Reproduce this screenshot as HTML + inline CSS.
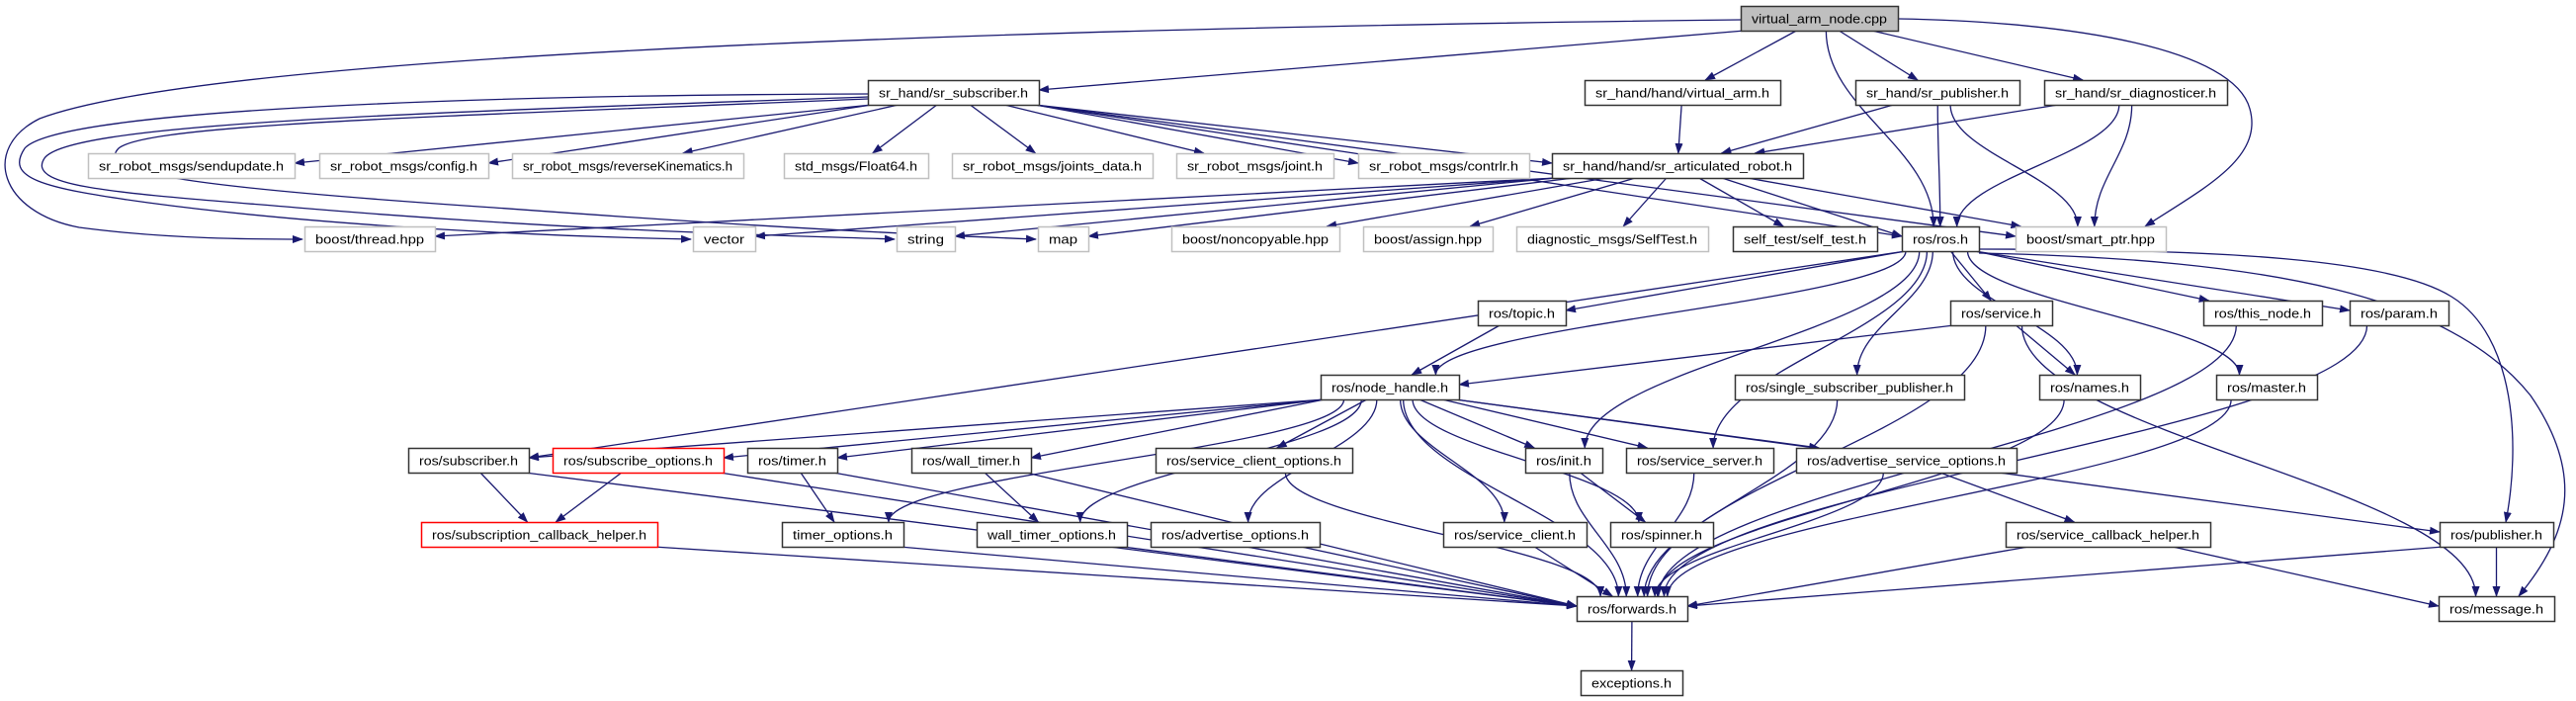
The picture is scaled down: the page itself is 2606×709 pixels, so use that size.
<!DOCTYPE html>
<html><head><meta charset="utf-8">
<style>
html,body{margin:0;padding:0;background:#fff;}
svg{display:block;}
text{font-family:"Liberation Sans","DejaVu Sans",sans-serif;font-size:13px;fill:#000;}
</style></head>
<body>
<svg id="g" width="2606" height="709" viewBox="0 0 2606 709" xmlns="http://www.w3.org/2000/svg">
<defs>
<marker id="a" markerUnits="userSpaceOnUse" markerWidth="11" markerHeight="8" refX="10" refY="4" orient="auto">
<path d="M0,0 L11,4 L0,8 z" fill="#191970"/>
</marker>
</defs>
<g id="edges" fill="none" stroke="#191970" stroke-width="1.3"></g>
<g id="nodes"></g>
</svg>
<div style="display:none" id="labels">
virtual_arm_node.cpp sr_hand/sr_subscriber.h sr_hand/hand/virtual_arm.h sr_hand/sr_publisher.h sr_hand/sr_diagnosticer.h
sr_robot_msgs/sendupdate.h sr_robot_msgs/config.h sr_robot_msgs/reverseKinematics.h std_msgs/Float64.h sr_robot_msgs/joints_data.h
sr_robot_msgs/joint.h sr_robot_msgs/contrlr.h sr_hand/hand/sr_articulated_robot.h boost/thread.hpp vector string map
boost/noncopyable.hpp boost/assign.hpp diagnostic_msgs/SelfTest.h self_test/self_test.h ros/ros.h boost/smart_ptr.hpp
ros/topic.h ros/service.h ros/this_node.h ros/param.h ros/node_handle.h ros/single_subscriber_publisher.h ros/names.h ros/master.h
ros/subscriber.h ros/subscribe_options.h ros/timer.h ros/wall_timer.h ros/service_client_options.h ros/init.h ros/service_server.h
ros/advertise_service_options.h ros/publisher.h ros/subscription_callback_helper.h timer_options.h wall_timer_options.h
ros/advertise_options.h ros/service_client.h ros/spinner.h ros/service_callback_helper.h ros/forwards.h ros/message.h exceptions.h
</div>
<script>
var R=[6,81,155,229,304,379,453,528,603,678],H=25;
var N={
VAN:[1761,1920,0,"virtual_arm_node.cpp","r"],
SUB:[878,1051,1,"sr_hand/sr_subscriber.h"],
VA:[1603,1801,1,"sr_hand/hand/virtual_arm.h"],
PUB:[1877,2043,1,"sr_hand/sr_publisher.h"],
DIAG:[2068,2253,1,"sr_hand/sr_diagnosticer.h"],
SEND:[89,298,2,"sr_robot_msgs/sendupdate.h","g"],
CONF:[323,494,2,"sr_robot_msgs/config.h","g"],
REV:[518,752,2,"sr_robot_msgs/reverseKinematics.h","g"],
F64:[793,939,2,"std_msgs/Float64.h","g"],
JD:[963,1166,2,"sr_robot_msgs/joints_data.h","g"],
JOINT:[1190,1349,2,"sr_robot_msgs/joint.h","g"],
CON:[1374,1547,2,"sr_robot_msgs/contrlr.h","g"],
ART:[1570,1824,2,"sr_hand/hand/sr_articulated_robot.h"],
THR:[308,440,3,"boost/thread.hpp","g"],
VEC:[701,764,3,"vector","g"],
STR:[907,966,3,"string","g"],
MAP:[1050,1101,3,"map","g"],
NONC:[1185,1355,3,"boost/noncopyable.hpp","g"],
ASSIGN:[1379,1510,3,"boost/assign.hpp","g"],
SELFT:[1534,1728,3,"diagnostic_msgs/SelfTest.h","g"],
ST:[1753,1899,3,"self_test/self_test.h"],
ROS:[1924,2002,3,"ros/ros.h"],
SP:[2039,2191,3,"boost/smart_ptr.hpp","g"],
TOPIC:[1495,1584,4,"ros/topic.h"],
SERV:[1973,2076,4,"ros/service.h"],
THIS:[2229,2349,4,"ros/this_node.h"],
PARAM:[2377,2477,4,"ros/param.h"],
NH:[1336,1476,5,"ros/node_handle.h"],
SSP:[1755,1987,5,"ros/single_subscriber_publisher.h"],
NAMES:[2063,2165,5,"ros/names.h"],
MASTER:[2242,2344,5,"ros/master.h"],
RSUB:[413,535,6,"ros/subscriber.h"],
SOPT:[559,732,6,"ros/subscribe_options.h","red"],
TIMER:[756,847,6,"ros/timer.h"],
WT:[922,1043,6,"ros/wall_timer.h"],
SCO:[1169,1368,6,"ros/service_client_options.h"],
INIT:[1543,1621,6,"ros/init.h"],
SS:[1645,1794,6,"ros/service_server.h"],
ASO:[1817,2040,6,"ros/advertise_service_options.h"],
PUBL:[2468,2583,7,"ros/publisher.h"],
SCH:[426,665,7,"ros/subscription_callback_helper.h","red"],
TO:[791,914,7,"timer_options.h"],
WTO:[988,1140,7,"wall_timer_options.h"],
AO:[1164,1335,7,"ros/advertise_options.h"],
SC:[1460,1605,7,"ros/service_client.h"],
SPIN:[1629,1733,7,"ros/spinner.h"],
SCBH:[2029,2236,7,"ros/service_callback_helper.h"],
FWD:[1595,1707,8,"ros/forwards.h"],
MSG:[2467,2584,8,"ros/message.h"],
EXC:[1599,1702,9,"exceptions.h"]
};
var E=[
"VAN SUB","VAN VA","VAN PUB","VAN DIAG","VAN ROS",
"SUB SEND","SUB CONF","SUB REV","SUB F64","SUB JD","SUB JOINT","SUB CON","SUB ART","SUB ROS","SUB SP",
"VA ART","PUB ART","PUB ROS","PUB SP","DIAG ART","DIAG ROS","DIAG SP",
"ART THR","ART VEC","ART STR","ART MAP","ART NONC","ART ASSIGN","ART SELFT","ART ST","ART ROS","ART SP",
"ROS NH","ROS TOPIC","ROS SERV","ROS THIS","ROS PARAM","ROS NAMES","ROS MASTER","ROS SSP","ROS INIT","ROS SS","ROS RSUB",
"TOPIC NH","SERV NH","SERV NAMES","SERV FWD","SERV MSG",
"THIS FWD","PARAM FWD","MASTER FWD","NAMES FWD","SSP FWD",
"NH RSUB","NH SOPT","NH TIMER","NH WT","NH SCO","NH INIT","NH SS","NH ASO","NH PUBL","NH TO","NH WTO","NH AO","NH SC","NH SPIN","NH FWD",
"RSUB SCH","RSUB FWD","SOPT SCH","SOPT FWD","TIMER TO","TIMER FWD","WT WTO","WT FWD","SCO FWD","INIT SPIN","INIT FWD","SS FWD",
"ASO SCBH","ASO FWD","SCH FWD","TO FWD","WTO FWD","AO FWD","SC FWD","SCBH FWD","SCBH MSG","PUBL FWD","PUBL MSG","FWD EXC"
];
var NS="http://www.w3.org/2000/svg";
var eg=document.getElementById("edges"),ng=document.getElementById("nodes");
function P(d){var p=document.createElementNS(NS,"path");p.setAttribute("d",d);p.setAttribute("marker-end","url(#a)");eg.appendChild(p);}
function cl(v,a,b){return Math.max(a,Math.min(b,v));}
E.forEach(function(s){
 var t=s.split(" "),A=N[t[0]],B=N[t[1]];
 var ax=(A[0]+A[1])/2,bx=(B[0]+B[1])/2,ay=R[A[2]]+H/2,by=R[B[2]]+H/2;
 var dx=bx-ax,dy=by-ay;
 var sx=cl(ax+dx*(H/2)/dy,A[0]+4,A[1]-4),sy=R[A[2]]+H;
 var tx=bx-dx*(H/2)/dy,ty=R[B[2]],side=false;
 if(tx<B[0]+4||tx>B[1]-4){
   if(Math.abs(dx)>dy*2.2){side=true;ty=R[B[2]]+10;tx=dx>0?B[0]:B[1];}
   else tx=cl(tx,B[0]+4,B[1]-4);
 }
 var rows=B[2]-A[2];
 if(rows<=1||side){P("M"+sx+","+sy+" L"+tx+","+ty);return;}
 var m=(ty-sy)*0.4;
 P("M"+sx+","+sy+" C"+sx+","+(sy+m)+" "+tx+","+(ty-m)+" "+tx+","+ty);
});
// special long curves
P("M1761,20 C900,30 200,60 40,120 C-20,150 0,215 80,230 C170,242 260,242 306,242");
P("M878,95 C500,96 60,110 25,150 C5,180 40,190 150,205 C350,232 600,240 699,242");
P("M878,98 C400,115 70,125 45,160 C25,190 120,195 300,210 C600,235 800,238 905,242");
P("M878,100 C450,118 150,125 120,150 C95,175 200,190 500,210 C800,232 950,238 1048,242");
P("M1920,19 C2100,22 2260,50 2276,110 C2290,160 2230,190 2170,229");
P("M2002,252 C2250,252 2420,262 2480,300 C2545,340 2550,450 2535,528");
P("M2002,256 C2300,262 2480,300 2560,400 C2615,480 2600,540 2548,603");
// nodes
for(var k in N){var n=N[k],x=n[0],w=n[1]-n[0],y=R[n[2]];
 var r=document.createElementNS(NS,"rect");
 r.setAttribute("x",x+0.5);r.setAttribute("y",y+0.5);r.setAttribute("width",w);r.setAttribute("height",H);
 var st=n[4]=="g"?"#c0c0c0":(n[4]=="red"?"#ff0000":"#333333");
 r.setAttribute("fill",n[4]=="r"?"#bfbfbf":"#ffffff");r.setAttribute("stroke",st);r.setAttribute("stroke-width","1.5");
 ng.appendChild(r);
 var tx=document.createElementNS(NS,"text");
 tx.setAttribute("x",x+w/2);tx.setAttribute("y",y+17.5);tx.setAttribute("text-anchor","middle");
 tx.setAttribute("textLength",Math.max(10,w-22));tx.setAttribute("lengthAdjust","spacingAndGlyphs");
 tx.textContent=n[3];ng.appendChild(tx);}
</script>
</body></html>
